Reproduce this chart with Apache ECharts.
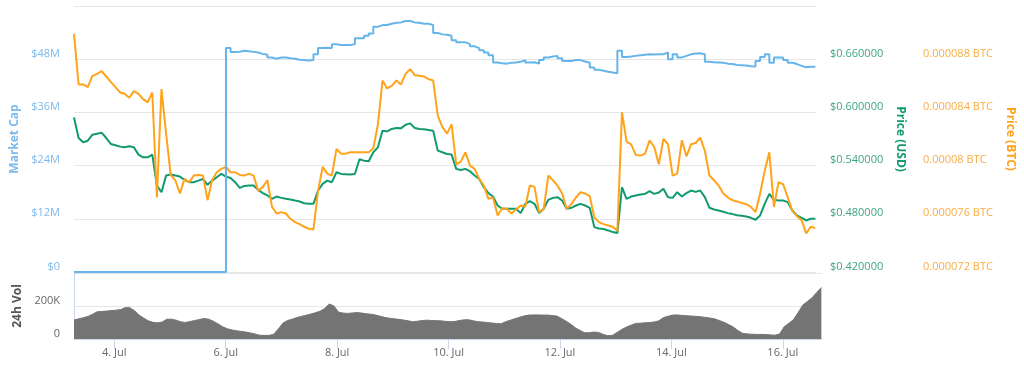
<!DOCTYPE html>
<html>
<head>
<meta charset="utf-8">
<script src="https://cdn.jsdelivr.net/npm/echarts@6/dist/echarts.min.js"></script>
<style>
html,body{margin:0;padding:0;background:#fff;}
#chart{width:1024px;height:367px;}
</style>
</head>
<body>
<div id="chart"></div>
<script>
// ---- time grid (hours after 3 Jul 00:00), one sample every 2 hours ----
const START_HOUR = 6.63;
const STEP_HOURS = 2;
const X_MIN = 6.63;
const X_MAX = 328.9;

// ---- x-axis ticks ----
const tickHours = [24, 72, 120, 168, 216, 264, 312];
const tickLabels = ['4. Jul', '6. Jul', '8. Jul', '10. Jul', '12. Jul', '14. Jul', '16. Jul'];

// ---- Market cap (million USD) ----
const marketCap = [
  0,0,0,0,0,0,0,0,0,0, 0,0,0,0,0,0,0,0,0,0, 0,0,0,0,0,0,0,0,0,0, 0,0,0,0,
  50.5,49.6,49.7,49.9,49.8,49.65,49.5,49.2,49.0,48.4,
  48.1,48.4,48.4,48.2,48.1,47.9,47.8,47.7,47.8,49.1,
  50.5,50.6,50.5,51.4,51.2,51.2,51.2,51.4,52.7,52.7,
  53.3,53.8,55.3,55.7,55.7,56.0,56.2,56.3,56.6,56.6,
  56.3,56.2,56.0,56.0,55.7,53.9,53.6,53.5,53.3,52.3,
  51.8,51.8,51.4,50.9,50.5,50.0,49.5,48.9,47.25,47.1,
  47.0,47.2,47.25,47.4,47.8,47.25,47.3,47.0,47.8,48.4,
  48.6,48.75,48.2,47.6,47.6,47.8,47.8,47.5,47.2,46.1,
  45.6,45.4,45.15,45.0,44.8,49.9,48.5,48.6,48.75,48.9,
  49.0,49.1,49.05,49.1,49.1,49.5,48.0,49.1,48.4,48.75,
  49.1,49.3,49.35,49.1,47.4,47.3,47.25,47.2,47.0,46.9,
  46.7,46.65,46.6,46.4,46.35,47.6,48.5,49.1,47.2,48.4,
  48.4,47.8,47.2,46.9,46.5,46.2,46.3,46.3
];

// ---- Price (USD) ----
const priceUsd = [
  0.5944,0.5711,0.5663,0.5681,0.5749,0.576,0.5771,0.5711,0.5644,0.5629,
  0.5614,0.5606,0.5618,0.5606,0.5524,0.5494,0.5494,0.5524,0.5175,0.51,
  0.5288,0.5299,0.5288,0.5276,0.5239,0.5213,0.5213,0.5231,0.525,0.5183,
  0.5231,0.5269,0.5306,0.5276,0.5261,0.5213,0.5149,0.5171,0.5175,0.5175,
  0.5126,0.5089,0.5063,0.5025,0.5051,0.5036,0.5025,0.5018,0.5006,0.4995,
  0.4976,0.4969,0.4969,0.5119,0.5194,0.5231,0.5213,0.5325,0.5306,0.5303,
  0.5299,0.5306,0.5471,0.5456,0.5449,0.555,0.5606,0.5794,0.5786,0.5813,
  0.5824,0.582,0.5861,0.5876,0.5824,0.5813,0.5809,0.5801,0.5794,0.5569,
  0.555,0.5531,0.5524,0.5363,0.5351,0.5363,0.5336,0.5288,0.525,0.5156,
  0.5089,0.5051,0.495,0.4913,0.4913,0.4913,0.4913,0.4864,0.4969,0.4999,
  0.4969,0.4864,0.4913,0.5014,0.5036,0.5044,0.5006,0.4913,0.4924,0.495,
  0.4969,0.495,0.4924,0.4706,0.4691,0.4684,0.4669,0.465,0.4639,0.5156,
  0.5025,0.5051,0.5063,0.5074,0.5081,0.5111,0.5081,0.5096,0.5138,0.5044,
  0.5036,0.51,0.5051,0.5089,0.5119,0.5104,0.5119,0.5044,0.4924,0.4905,
  0.4894,0.4879,0.4864,0.4853,0.4841,0.4834,0.4826,0.4811,0.4789,0.4838,
  0.4969,0.5081,0.5014,0.5006,0.5006,0.4988,0.4894,0.4838,0.4811,0.4781,
  0.48,0.48
];

// ---- Price (BTC), in millionths of a BTC ----
const priceBtcMicro = [
  89.9,86.1,86.1,85.9,86.75,86.9,87.1,86.7,86.3,85.9,
  85.5,85.4,85.1,85.6,85.4,85.0,84.75,85.5,77.6,85.75,
  82.4,79.3,78.9,77.9,79.0,78.75,79.25,79.3,79.25,77.4,
  78.9,79.5,79.75,79.9,79.5,79.5,79.3,79.25,79.4,79.25,
  78.1,78.4,78.9,76.9,76.4,76.5,76.4,76.0,75.75,75.6,
  75.4,75.25,75.2,78.1,79.9,79.4,79.25,81.25,80.9,80.9,
  81.0,81.0,81.0,81.0,81.0,81.3,83.1,86.4,85.8,86.0,
  86.4,86.1,86.9,87.25,86.8,86.75,86.7,86.5,86.4,83.75,
  82.9,82.4,83.1,80.1,80.3,81.0,80.0,79.75,79.0,78.5,
  77.5,77.6,76.25,76.8,76.75,76.4,76.7,77.0,76.9,78.5,
  78.4,76.5,76.75,79.25,78.9,78.5,77.9,76.75,77.1,77.6,
  78.0,77.9,77.7,76.1,75.75,75.6,75.5,75.4,75.1,84.0,
  81.8,81.6,80.8,80.75,80.9,81.9,81.4,80.1,82.0,81.6,
  79.25,79.4,81.9,80.7,81.6,81.7,82.1,81.1,79.25,78.9,
  78.5,77.9,77.6,77.4,77.3,77.2,77.1,76.9,76.5,77.9,
  79.6,81.0,76.9,78.75,78.6,77.6,76.6,76.2,75.9,74.9,
  75.4,75.3
];

// ---- 24h volume (thousands) ----
const volumeK = [
  115,122,129,137,150,165,167,169,172,175,
  178,190,190,172,145,127,110,101,98,103,
  120,120,114,104,100,106,112,118,124,120,
  108,92,75,62,55,50,46,42,37,30,
  23,22,22,28,60,96,112,120,130,137,
  144,151,159,168,185,212,200,162,157,155,
  158,160,157,153,150,145,138,130,126,122,
  119,115,110,104,108,112,114,112,111,110,
  107,105,106,112,116,117,110,105,103,100,
  97,94,92,105,114,123,132,140,145,146,
  146,145,145,142,139,125,108,90,68,52,
  38,38,42,40,28,20,22,40,58,72,
  84,94,96,98,100,103,110,130,138,145,
  146,143,141,139,137,135,131,127,122,112,
  102,88,73,52,35,31,29,28,28,27,
  25,23,30,75,95,118,160,206,228,250,
  282,312
];

// ---- y-axis tick labels ----
const capTickLabels = ['$0', '$12M', '$24M', '$36M', '$48M'];
const usdTickLabels = ['$0.420000', '$0.480000', '$0.540000', '$0.600000', '$0.660000'];
const btcTickLabels = ['0.000072 BTC', '0.000076 BTC', '0.00008 BTC', '0.000084 BTC', '0.000088 BTC'];
const volTickLabels = ['0', '200K'];

const hours = marketCap.map((_, i) => START_HOUR + STEP_HOURS * i);
const pairs = arr => arr.map((v, i) => [hours[i], v]);

const FONT = 'Open Sans';
const C_CAP = '#66b5ea', C_USD = '#119a72', C_BTC = '#ffa31a', C_VOL = '#747474';
const C_CAP_L = '#7cb9ec', C_USD_L = '#3ea582', C_BTC_L = '#f9ad45';

const chart = echarts.init(document.getElementById('chart'), null, {renderer: 'canvas'});
const labelIdx = (labels, min, step) => v => {
  const k = Math.round((v - min) / step);
  return labels[k] !== undefined ? labels[k] : '';
};

chart.setOption({
  animation: false,
  backgroundColor: '#fff',
  textStyle: {fontFamily: FONT},
  grid: [
    {left: 74, right: 202, top: 6, height: 266},
    {left: 74, right: 202, top: 273, height: 66}
  ],
  xAxis: [
    {type: 'value', gridIndex: 0, min: X_MIN, max: X_MAX,
     axisLine: {show: false}, axisTick: {show: false}, axisLabel: {show: false}, splitLine: {show: false}},
    {type: 'value', gridIndex: 1, min: X_MIN, max: X_MAX,
     axisLine: {show: true, lineStyle: {color: '#ccd6eb', width: 1}},
     axisTick: {show: true, customValues: tickHours, length: 10, lineStyle: {color: '#ccd6eb'}},
     axisLabel: {show: true, customValues: tickHours, margin: 8, color: '#666', fontSize: 11, fontFamily: FONT,
       formatter: v => { const k = tickHours.indexOf(v); return k >= 0 ? tickLabels[k] : ''; }},
     splitLine: {show: false}}
  ],
  yAxis: [
    {type: 'value', gridIndex: 0, position: 'left', min: 0, max: 60, interval: 12,
     name: 'Market Cap', nameLocation: 'middle', nameGap: 47, nameRotate: 90,
     nameTextStyle: {color: C_CAP_L, fontSize: 12, fontWeight: 'bold', fontFamily: FONT},
     axisLine: {show: false}, axisTick: {show: false},
     axisLabel: {color: C_CAP_L, fontSize: 11, margin: 14, verticalAlign: 'bottom', showMaxLabel: false, fontFamily: FONT,
       formatter: labelIdx(capTickLabels, 0, 12)},
     splitLine: {show: true, lineStyle: {color: '#e6e6e6', width: 1}}},
    {type: 'value', gridIndex: 0, position: 'right', min: 0.42, max: 0.72, interval: 0.06,
     name: 'Price (USD)', nameLocation: 'middle', nameGap: 78, nameRotate: -90,
     nameTextStyle: {color: C_USD, fontSize: 12, fontWeight: 'bold', fontFamily: FONT},
     axisLine: {show: false}, axisTick: {show: false},
     axisLabel: {color: C_USD_L, fontSize: 11, margin: 14, verticalAlign: 'bottom', showMaxLabel: false, fontFamily: FONT,
       formatter: labelIdx(usdTickLabels, 0.42, 0.06)},
     splitLine: {show: false}},
    {type: 'value', gridIndex: 0, position: 'right', offset: 93, min: 72, max: 92, interval: 4,
     name: 'Price (BTC)', nameLocation: 'middle', nameGap: 95, nameRotate: -90,
     nameTextStyle: {color: C_BTC, fontSize: 12, fontWeight: 'bold', fontFamily: FONT},
     axisLine: {show: false}, axisTick: {show: false},
     axisLabel: {color: C_BTC_L, fontSize: 11, margin: 14, verticalAlign: 'bottom', showMaxLabel: false, fontFamily: FONT,
       formatter: labelIdx(btcTickLabels, 72, 4)},
     splitLine: {show: false}},
    {type: 'value', gridIndex: 1, position: 'left', min: 0, max: 400, interval: 200,
     name: '24h Vol', nameLocation: 'middle', nameGap: 49, nameRotate: 90,
     nameTextStyle: {color: '#555', fontSize: 12, fontWeight: 'bold', fontFamily: FONT},
     axisLine: {show: true, lineStyle: {color: '#ccd6eb', width: 1}}, axisTick: {show: false},
     axisLabel: {color: '#666', fontSize: 11, margin: 14, verticalAlign: 'bottom', showMaxLabel: false, fontFamily: FONT,
       formatter: labelIdx(volTickLabels, 0, 200)},
     splitLine: {show: true, lineStyle: {color: '#e6e6e6', width: 1}}}
  ],
  series: [
    {name: 'Price (USD)', type: 'line', xAxisIndex: 0, yAxisIndex: 1, data: pairs(priceUsd),
     showSymbol: false, lineStyle: {color: C_USD, width: 2}, itemStyle: {color: C_USD}, z: 3},
    {name: 'Price (BTC)', type: 'line', xAxisIndex: 0, yAxisIndex: 2, data: pairs(priceBtcMicro),
     showSymbol: false, lineStyle: {color: C_BTC, width: 2}, itemStyle: {color: C_BTC}, z: 4},
    {name: 'Market Cap', type: 'line', step: 'start', xAxisIndex: 0, yAxisIndex: 0, data: pairs(marketCap),
     showSymbol: false, lineStyle: {color: C_CAP, width: 2}, itemStyle: {color: C_CAP}, z: 5},
    {name: '24h Vol', type: 'line', xAxisIndex: 1, yAxisIndex: 3, data: pairs(volumeK),
     showSymbol: false, lineStyle: {color: C_VOL, width: 1}, itemStyle: {color: C_VOL},
     areaStyle: {color: C_VOL, opacity: 1}, z: 2}
  ]
});
</script>
</body>
</html>
